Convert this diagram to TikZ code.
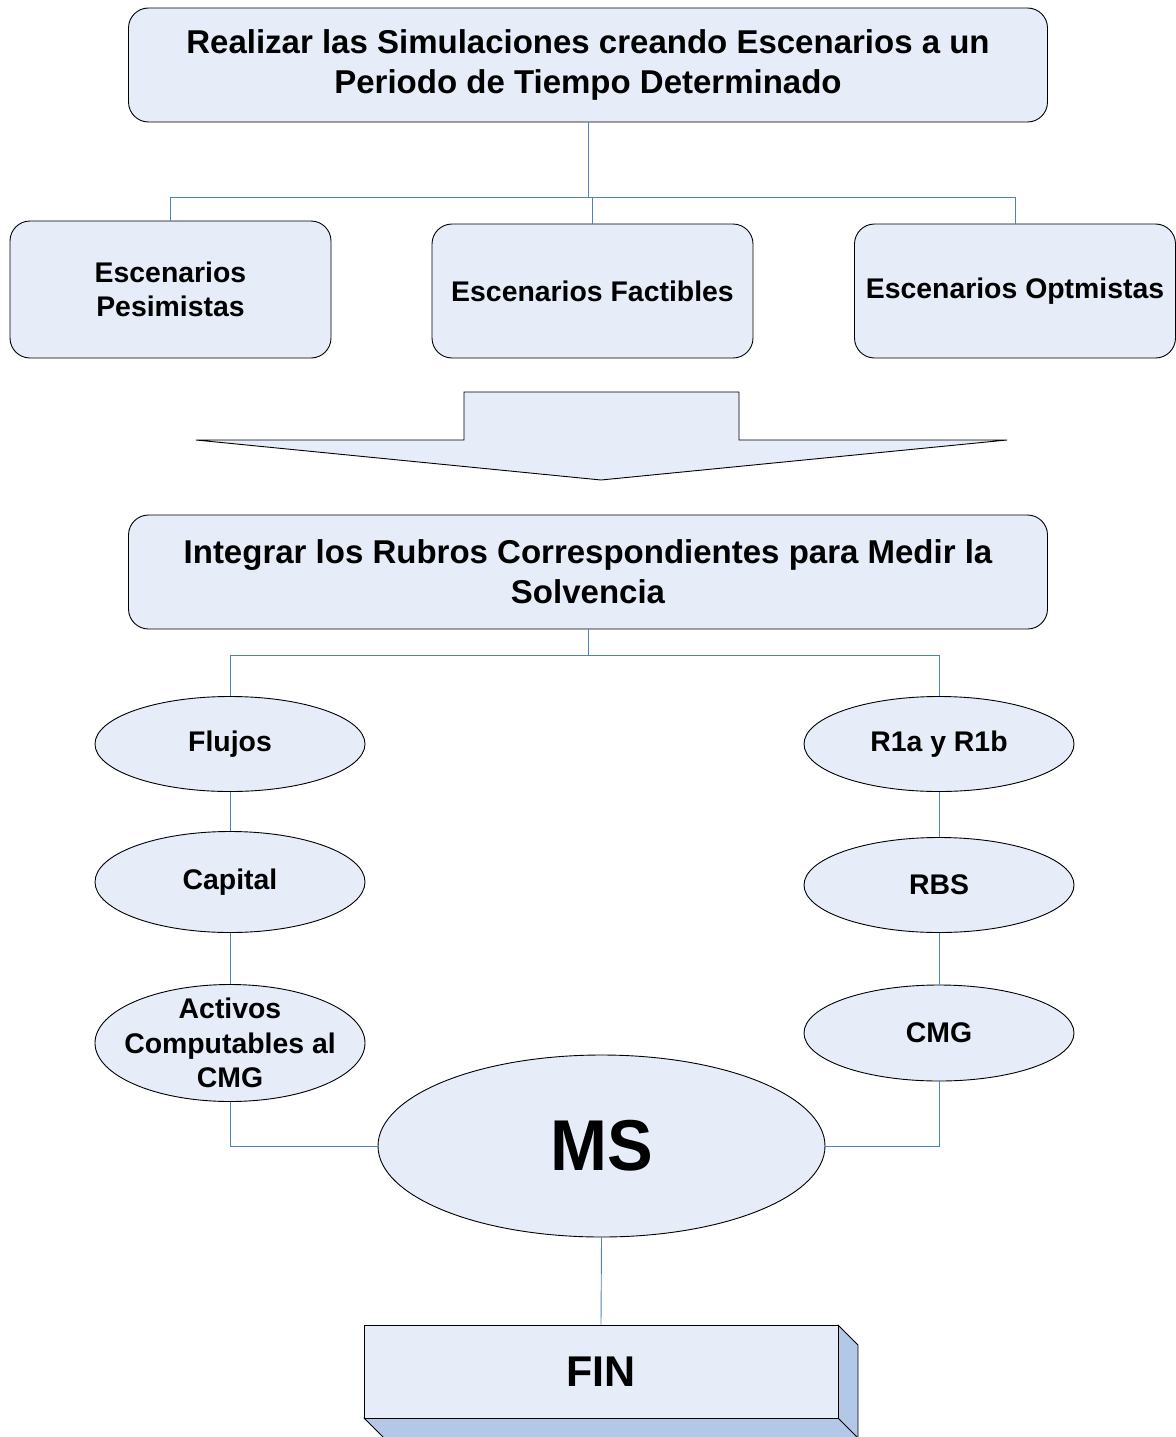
\documentclass[tikz,border=0pt]{standalone}
\usepackage{fontspec}
\setmainfont{Liberation Sans}
\usetikzlibrary{shapes.geometric}
\definecolor{boxfill}{HTML}{E6EDF8}
\definecolor{conncol}{HTML}{4F81BD}
\definecolor{sidefill}{HTML}{B3C7E6}
\begin{document}
\begin{tikzpicture}[x=1pt,y=-1pt,
  bigbox/.style={draw=black, fill=boxfill, rounded corners=20pt, line width=0.9pt, inner sep=0pt, align=center,
    minimum width=919pt, minimum height=114pt, font=\bfseries\fontsize{33}{40}\selectfont},
  smallbox/.style={draw=black, fill=boxfill, rounded corners=20pt, line width=0.9pt, inner sep=0pt, align=center,
    minimum width=321pt, minimum height=135pt, font=\bfseries\fontsize{28.4}{34}\selectfont},
  ell/.style={draw=black, fill=boxfill, ellipse, line width=0.9pt, inner sep=0pt, align=center,
    minimum width=270pt, font=\bfseries\fontsize{28.4}{34.5}\selectfont},
  lbl/.style={inner sep=0pt, align=center, font=\bfseries\fontsize{28.4}{34.5}\selectfont},
  conn/.style={draw=conncol, line width=0.9pt},
  face/.style={draw=black, fill=sidefill, line width=0.9pt, line join=round}
]
\useasboundingbox (0,0) rectangle (1175,1437);

% top box
\node[bigbox] (top) at (588,65) {Realizar las Simulaciones creando Escenarios a un\\Periodo de Tiempo Determinado};

% scenario boxes
\node[smallbox, minimum height=137pt] (pes) at (170.5,289.5) {Escenarios\\Pesimistas};
\node[smallbox, minimum height=134pt] (fac) at (592.5,291) {Escenarios Factibles};
\node[smallbox, minimum height=134pt] (opt) at (1015,291) {Escenarios Optmistas};

\coordinate (j1) at (588,197);
\draw[conn] (top.south) -- (j1);
\draw[conn] (j1) -| (pes.north);
\draw[conn] (j1) -| (opt.north);
\draw[conn] (fac.north) -- (fac.north |- j1);

% block arrow
\draw[draw=black, fill=boxfill, line width=0.9pt, line join=miter]
  (464,392) -- (739,392) -- (739,440) -- (1007,440) -- (601,480) -- (196,440) -- (464,440) -- cycle;

% second box
\node[bigbox] (mid) at (588,572) {Integrar los Rubros Correspondientes para Medir la\\Solvencia};

% ellipses left
\node[ell, minimum height=95pt] (flu) at (230,744) {Flujos};
\node[ell, minimum height=101pt] (cap) at (230,882) {Capital};
\node[ell, minimum height=117pt] (act) at (230,1043) {};
\node[lbl] (actt) at (230,1043) {Activos\\Computables al\\CMG};

% ellipses right
\node[ell, minimum height=95pt] (r1) at (939,744) {R1a y R1b};
\node[ell, minimum height=95pt] (rbs) at (939,885) {RBS};
\node[ell, minimum height=96pt] (cmg) at (939,1033) {CMG};

\coordinate (j2) at (588,655);
\draw[conn] (mid.south) -- (j2);
\draw[conn] (j2) -| (flu.north);
\draw[conn] (j2) -| (r1.north);
\draw[conn] (flu.south) -- (cap.north);
\draw[conn] (cap.south) -- (act.north);
\draw[conn] (r1.south) -- (rbs.north);
\draw[conn] (rbs.south) -- (cmg.north);

% MS
\node[ell, minimum width=447pt, minimum height=182pt, font=\bfseries\fontsize{72}{72}\selectfont] (ms) at (601.5,1146) {\scalebox{0.95}[1]{MS}};
\draw[conn] (act.south) |- (ms.west);
\draw[conn] (cmg.south) |- (ms.east);

% FIN 3D box
\coordinate (fnw) at (364,1325);
\coordinate (fne) at (838,1325);
\coordinate (fse) at (838,1418);
\coordinate (fsw) at (364,1418);
\draw[face] (fne) -- ++(20,20) -- ++(0,100) -- (fse) -- cycle;
\draw[face] (fsw) -- (fse) -- ++(20,20) -- ++(0,10) -- (384,1448) -- (384,1438) -- cycle;
\node[draw=black, fill=boxfill, line width=0.9pt, inner sep=0pt, minimum width=474pt, minimum height=93pt,
  font=\bfseries\fontsize{43}{43}\selectfont] (fin) at (601,1371.5) {FIN};
\draw[conn] (ms.south) -- (fin.north);
\end{tikzpicture}
\end{document}
